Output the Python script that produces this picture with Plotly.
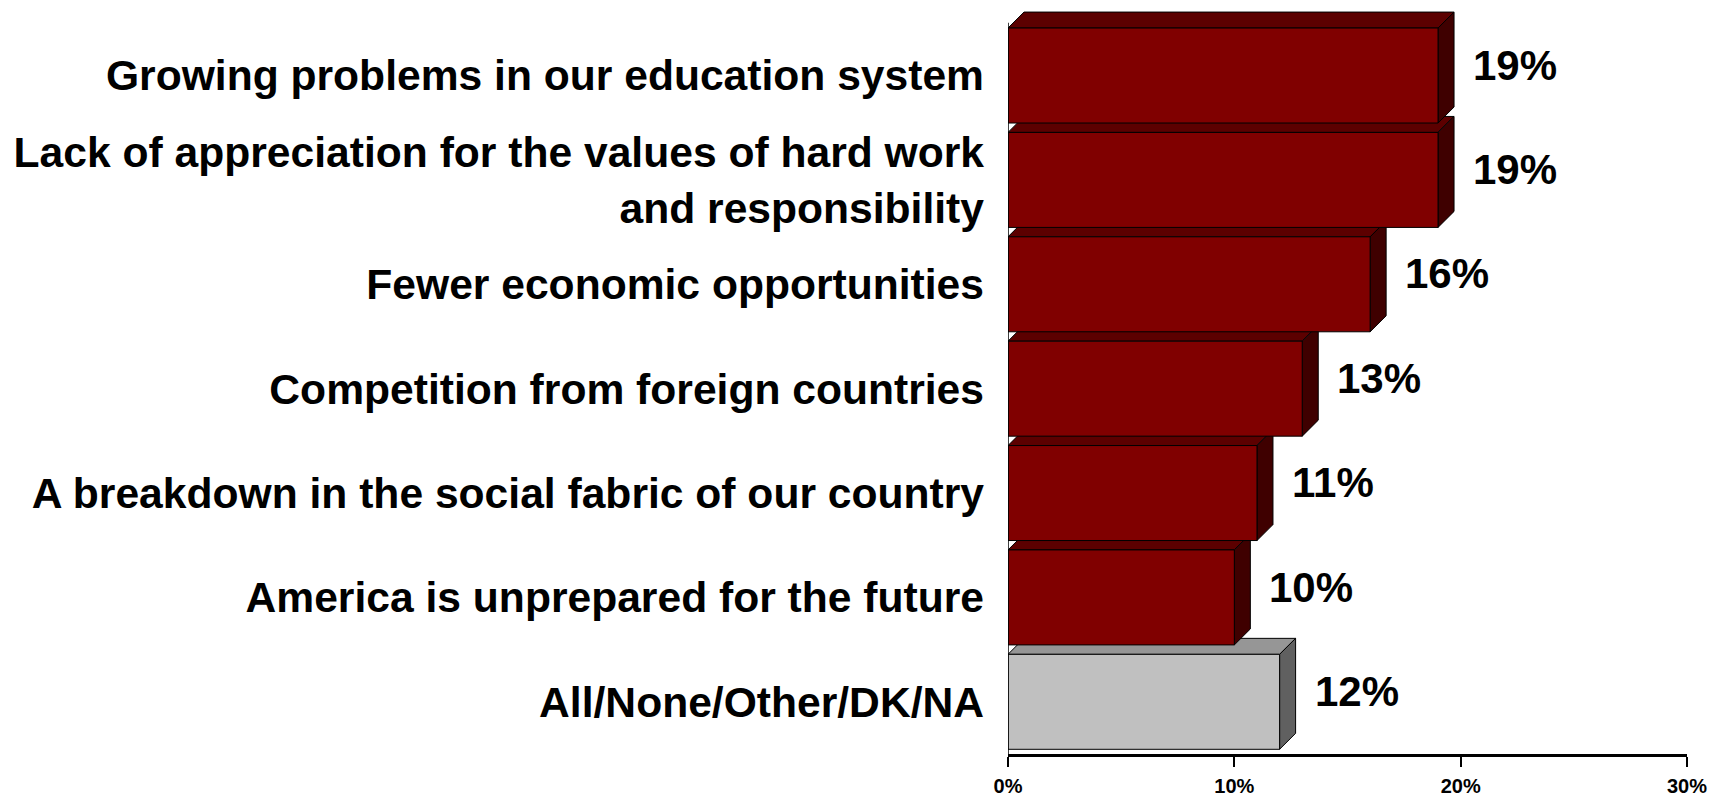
import plotly.graph_objects as go

# ---- data (top to bottom as shown) ----
categories = [
    "Growing problems in our education system",
    "Lack of appreciation for the values of hard work<br>and responsibility",
    "Fewer economic opportunities",
    "Competition from foreign countries",
    "A breakdown in the social fabric of our country",
    "America is unprepared for the future",
    "All/None/Other/DK/NA",
]
values = [19, 19, 16, 13, 11, 10, 12]
value_labels = ["19%", "19%", "16%", "13%", "11%", "10%", "12%"]
x_tick_vals = [0, 10, 20, 30]
x_tick_text = ["0%", "10%", "20%", "30%"]

# ---- style ----
RED = dict(front="#800000", top="#5c0000", side="#3f0000")
GRAY = dict(front="#c0c0c0", top="#969696", side="#606060")
styles = [RED] * 6 + [GRAY]
BAR_W = 0.91
DX = 0.707   # depth in x data units (~16px)
DY = 0.153   # depth in y data units (~16px)
FONT = "Liberation Sans, Arial, sans-serif"

n = len(categories)
ypos = [n - 1 - i for i in range(n)]

fig = go.Figure()
fig.add_trace(go.Bar(
    orientation="h",
    x=values,
    y=ypos,
    width=BAR_W,
    marker=dict(color=[s["front"] for s in styles],
                line=dict(color="#000000", width=1)),
    hoverinfo="skip",
))

shapes = []
# draw 3D faces from bottom bar upward so upper bars overlap lower ones
for i in sorted(range(n), key=lambda k: ypos[k]):
    v = values[i]
    yc = ypos[i]
    top = yc + BAR_W / 2
    bot = yc - BAR_W / 2
    s = styles[i]
    top_path = (f"M 0 {top} L {DX} {top + DY} L {v + DX} {top + DY} "
                f"L {v} {top} Z")
    side_path = (f"M {v} {top} L {v + DX} {top + DY} L {v + DX} {bot + DY} "
                 f"L {v} {bot} Z")
    shapes.append(dict(type="path", path=top_path, xref="x", yref="y",
                       fillcolor=s["top"], line=dict(color="#000000", width=1),
                       layer="below"))
    shapes.append(dict(type="path", path=side_path, xref="x", yref="y",
                       fillcolor=s["side"], line=dict(color="#000000", width=1),
                       layer="below"))

# vertical axis line at 0
shapes.append(dict(type="line", xref="x", yref="y", x0=0, x1=0,
                   y0=-0.5, y1=ypos[0] + BAR_W / 2 + 0.05,
                   line=dict(color="#000000", width=1.5), layer="above"))

annotations = []
for i in range(n):
    annotations.append(dict(
        x=values[i] + DX, y=ypos[i] + DY * 0.65, xref="x", yref="y",
        text=value_labels[i], showarrow=False, xanchor="left",
        yanchor="middle", xshift=17,
        font=dict(family=FONT, size=42, color="#000000", weight="bold"),
    ))

fig.update_layout(
    width=1709, height=797, autosize=False,
    margin=dict(l=1008, r=22, t=8, b=43, pad=0),
    paper_bgcolor="white", plot_bgcolor="white",
    showlegend=False,
    shapes=shapes,
    annotations=annotations,
    xaxis=dict(
        range=[0, 30], tickvals=x_tick_vals, ticktext=x_tick_text,
        ticks="outside", ticklen=10, tickwidth=2, tickcolor="#000000",
        showline=True, linewidth=2.5, linecolor="#000000",
        showgrid=False, zeroline=False, ticklabelstandoff=2,
        automargin=False,
        tickfont=dict(family=FONT, size=20, color="#000000", weight="bold"),
    ),
    yaxis=dict(
        range=[-0.5, 6.647], tickvals=ypos, ticktext=categories,
        ticks="", showline=False, showgrid=False, zeroline=False,
        ticklabelstandoff=23, automargin=False,
        tickfont=dict(family=FONT, size=42.6, color="#000000", weight="bold"),
    ),
)

# remove the browser's default page margin so the figure fills the window
fig.write_html(
    "out.html",
    config={"displayModeBar": False},
    post_script="document.body.style.margin='0';document.body.style.overflow='hidden';",
)
